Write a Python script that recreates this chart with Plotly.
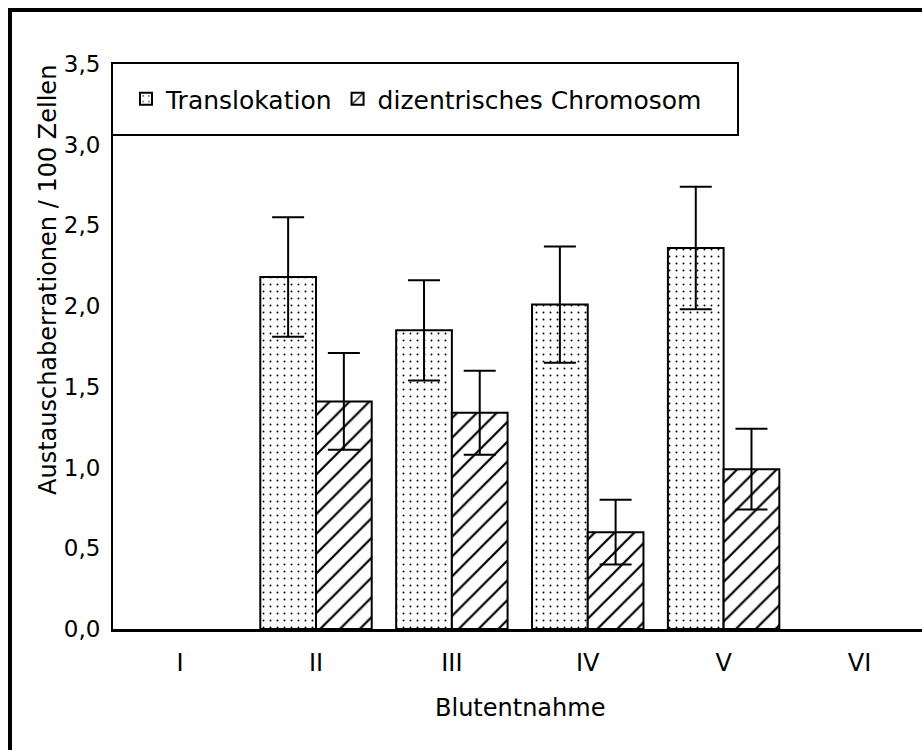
import plotly.graph_objects as go

# ---- data ----
categories = ["I", "II", "III", "IV", "V", "VI"]
translokation = [None, 2.18, 1.85, 2.01, 2.36, None]
translokation_err = [None, 0.37, 0.31, 0.36, 0.38, None]
dizentrisch = [None, 1.41, 1.34, 0.60, 0.99, None]
dizentrisch_err = [None, 0.30, 0.26, 0.20, 0.25, None]
y_ticks = [0.0, 0.5, 1.0, 1.5, 2.0, 2.5, 3.0, 3.5]

FONT = "DejaVu Sans"
W, H = 922, 750
L, R, T, B = 113, 0, 64, 121
PW, PH = W - L - R, H - T - B


def px(xp):
    return (xp - L) / PW


def py(yp):
    return (H - B - yp) / PH


fig = go.Figure()
fig.add_trace(go.Bar(
    x=categories, y=translokation, name="Translokation",
    marker=dict(color="white", line=dict(color="black", width=2),
                pattern=dict(shape=".", size=7, solidity=0.06, fgcolor="black",
                             bgcolor="white", fgopacity=1, fillmode="replace")),
    error_y=dict(type="data", array=translokation_err, visible=True,
                 color="black", thickness=2, width=16),
))
fig.add_trace(go.Bar(
    x=categories, y=dizentrisch, name="dizentrisches Chromosom",
    marker=dict(color="white", line=dict(color="black", width=2),
                pattern=dict(shape="/", size=14, solidity=0.16, fgcolor="black",
                             bgcolor="white", fgopacity=1, fillmode="replace")),
    error_y=dict(type="data", array=dizentrisch_err, visible=True,
                 color="black", thickness=2, width=16),
))

shapes = [
    # legend frame
    dict(type="rect", xref="paper", yref="paper",
         x0=px(112), x1=px(738), y0=py(135), y1=py(63),
         line=dict(color="black", width=2), fillcolor="rgba(0,0,0,0)", layer="above"),
    # outer frame (left and top)
    dict(type="line", xref="paper", yref="paper",
         x0=px(10), x1=px(10), y0=py(760), y1=py(8),
         line=dict(color="black", width=4)),
    dict(type="line", xref="paper", yref="paper",
         x0=px(8), x1=px(930), y0=py(10), y1=py(10),
         line=dict(color="black", width=4)),
]

annotations = [
    dict(text="Austauschaberrationen / 100 Zellen", xref="paper", yref="paper",
         x=px(48), y=py(280), textangle=-90, showarrow=False,
         xanchor="center", yanchor="middle", font=dict(family=FONT, size=24, color="black")),
    dict(text="Blutentnahme", xref="paper", yref="paper",
         x=px(520), y=py(708), showarrow=False,
         xanchor="center", yanchor="middle", font=dict(family=FONT, size=24, color="black")),
]

fig.update_layout(
    width=W, height=H,
    margin=dict(l=L, r=R, t=T, b=B, pad=0),
    paper_bgcolor="white", plot_bgcolor="white",
    barmode="group", bargap=0.18, bargroupgap=0,
    separators=", ",
    font=dict(family=FONT, size=23, color="black"),
    showlegend=True,
    legend=dict(orientation="h", x=px(126), y=py(99), xanchor="left", yanchor="middle",
                bgcolor="rgba(0,0,0,0)", borderwidth=0,
                font=dict(family=FONT, size=25, color="black"),
                itemwidth=30, tracegroupgap=0),
    shapes=shapes,
    annotations=annotations,
)
fig.update_xaxes(
    type="category", categoryorder="array", categoryarray=categories,
    range=[-0.494, 5.46], showline=True, linecolor="black", linewidth=3,
    ticks="", showgrid=False, zeroline=False,
    tickfont=dict(family=FONT, size=24, color="black"), ticklabelstandoff=10,
)
fig.update_yaxes(
    range=[0, 3.5], tickvals=y_ticks, tickformat=".1f",
    showline=True, linecolor="black", linewidth=2,
    ticks="", showgrid=False, zeroline=False,
    tickfont=dict(family=FONT, size=23, color="black"), ticklabelstandoff=6,
)

fig.write_html("out.html")
